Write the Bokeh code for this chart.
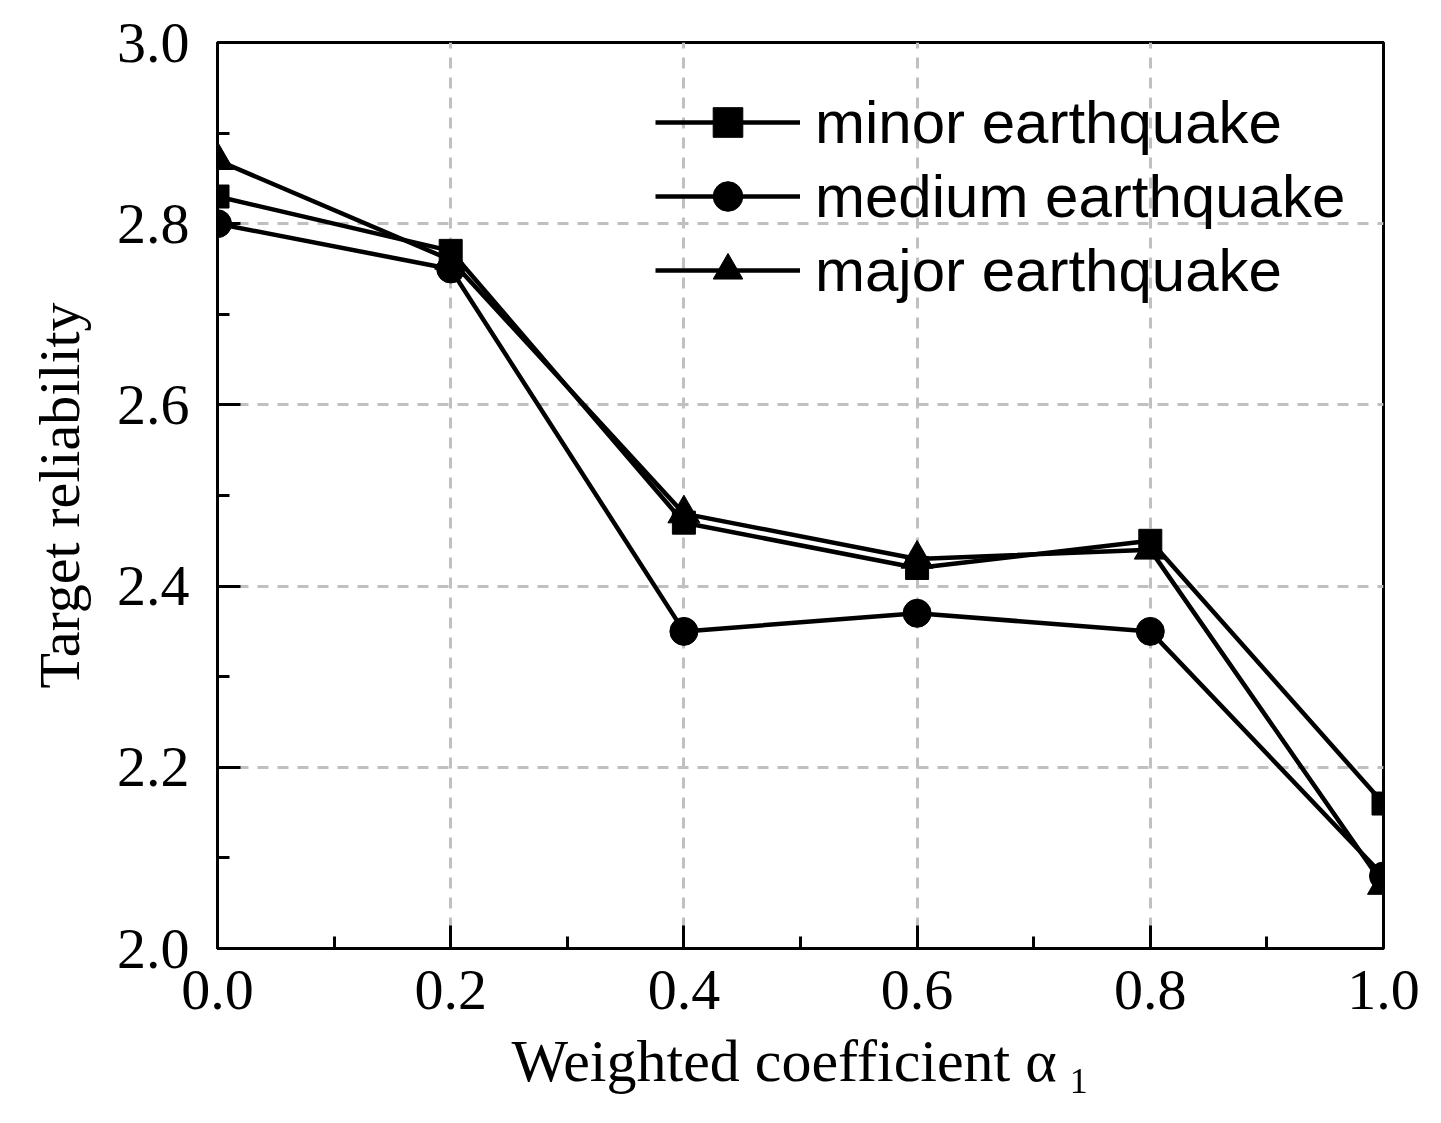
from bokeh.plotting import figure
from bokeh.models import Legend, LegendItem, FixedTicker, PrintfTickFormatter, Range1d
from bokeh.embed import file_html
from bokeh.resources import INLINE

alpha = [0.0, 0.2, 0.4, 0.6, 0.8, 1.0]
minor = [2.83, 2.77, 2.47, 2.42, 2.45, 2.16]
medium = [2.80, 2.75, 2.35, 2.37, 2.35, 2.08]
major = [2.87, 2.76, 2.48, 2.43, 2.44, 2.07]
x_ticks = [0.0, 0.2, 0.4, 0.6, 0.8, 1.0]
y_ticks = [2.0, 2.2, 2.4, 2.6, 2.8, 3.0]

p = figure(width=1430, height=1110, output_backend="svg", toolbar_location=None,
           x_range=Range1d(0, 1), y_range=Range1d(2, 3),
           min_border_left=217, min_border_right=47, min_border_top=42, min_border_bottom=162)

serif = "Liberation Serif"
for ax in (p.xaxis[0], p.yaxis[0]):
    ax.axis_line_width = 3
    ax.axis_line_color = "black"
    ax.major_tick_in = 23
    ax.major_tick_out = 0
    ax.minor_tick_in = 12
    ax.minor_tick_out = 0
    ax.major_tick_line_width = 3
    ax.minor_tick_line_width = 3
    ax.major_tick_line_color = "black"
    ax.minor_tick_line_color = "black"
    ax.major_label_text_font = serif
    ax.major_label_text_font_size = "58px"
    ax.major_label_text_color = "black"
    ax.axis_label_text_font = serif
    ax.axis_label_text_font_size = "58px"
    ax.axis_label_text_font_style = "normal"
    ax.axis_label_text_color = "black"
    ax.formatter = PrintfTickFormatter(format="%.1f")

p.xaxis[0].ticker = FixedTicker(ticks=x_ticks, minor_ticks=[0.1, 0.3, 0.5, 0.7, 0.9])
p.yaxis[0].ticker = FixedTicker(ticks=y_ticks, minor_ticks=[2.1, 2.3, 2.5, 2.7, 2.9])
p.xaxis[0].major_label_standoff = 22
p.yaxis[0].major_label_standoff = 28
p.xaxis[0].axis_label = "Weighted coefficient α\u2009₁"
p.yaxis[0].axis_label = "Target reliability"
p.xaxis[0].axis_label_text_font_size = "60px"
p.xaxis[0].axis_label_standoff = 16
p.yaxis[0].axis_label_standoff = 22

for g in (p.xgrid[0], p.ygrid[0]):
    g.grid_line_color = "#c0c0c0"
    g.grid_line_width = 3
    g.grid_line_dash = "11 9"

p.outline_line_color = "black"
p.outline_line_width = 3
p.outline_line_alpha = 1.0
p.background_fill_color = "white"
p.border_fill_color = "white"

lw = 4.5
l1 = p.line(alpha, minor, line_color="black", line_width=lw)
m1 = p.scatter(alpha, minor, marker="square", size=23, fill_color="black", line_color="black")
l2 = p.line(alpha, medium, line_color="black", line_width=lw)
m2 = p.scatter(alpha, medium, marker="circle", size=28, fill_color="black", line_color="black")
l3 = p.line(alpha, major, line_color="black", line_width=lw)
m3 = p.scatter(alpha, major, marker="triangle", size=32, fill_color="black", line_color="black")

legend = Legend(items=[
    LegendItem(label="minor earthquake", renderers=[l1, m1]),
    LegendItem(label="medium earthquake", renderers=[l2, m2]),
    LegendItem(label="major earthquake", renderers=[l3, m3]),
], location=(438, 641))
legend.label_text_font = "Liberation Sans"
legend.label_text_font_size = "60px"
legend.label_text_color = "black"
legend.glyph_width = 145
legend.glyph_height = 74
legend.label_height = 74
legend.label_standoff = 15
legend.spacing = 0
legend.padding = 0
legend.margin = 0
legend.border_line_alpha = 0
legend.background_fill_alpha = 0
p.add_layout(legend)

open("out.html", "w").write(file_html(p, INLINE))
